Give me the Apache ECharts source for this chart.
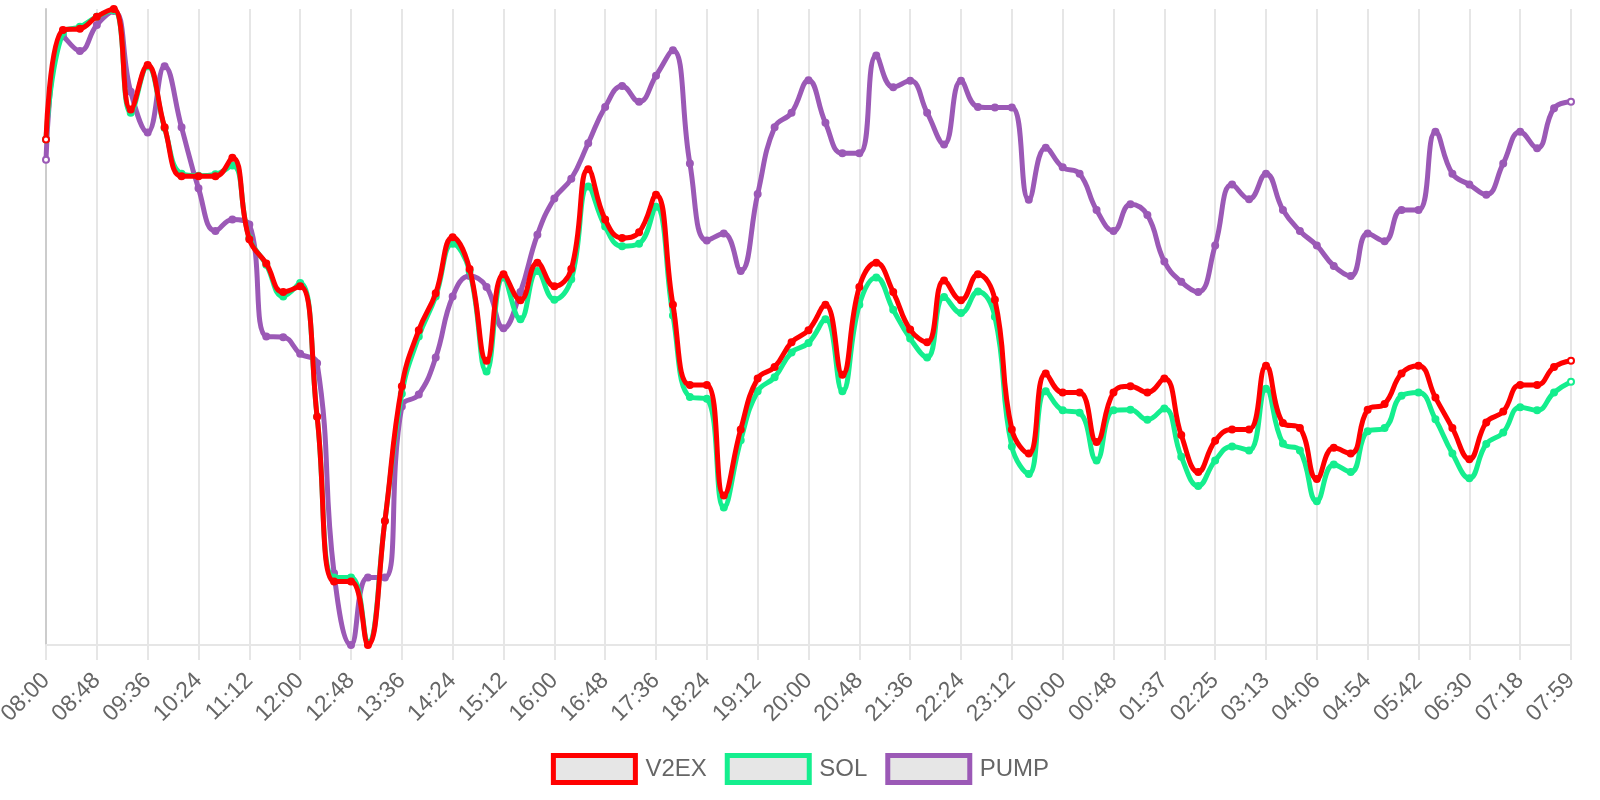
<!DOCTYPE html>
<html>
<head>
<meta charset="utf-8">
<script src="https://cdn.jsdelivr.net/npm/echarts@6/dist/echarts.min.js"></script>
<style>
html, body { margin: 0; padding: 0; background: #fff; }
#main { width: 1600px; height: 800px; }
</style>
</head>
<body>
<div id="main"></div>
<script>
// time axis, one point every ~16 min
var times = [
  '08:00','08:16','08:32','08:48','09:04','09:20','09:36','09:52','10:08',
  '10:24','10:40','10:56','11:12','11:28','11:44','12:00','12:16','12:32',
  '12:48','13:04','13:20','13:36','13:52','14:08','14:24','14:40','14:56',
  '15:12','15:28','15:44','16:00','16:16','16:32','16:48','17:04','17:20',
  '17:36','17:52','18:08','18:24','18:40','18:56','19:12','19:28','19:44',
  '20:00','20:16','20:32','20:48','21:04','21:20','21:36','21:52','22:08',
  '22:24','22:40','22:56','23:12','23:28','23:44','00:00','00:16','00:32',
  '00:48','01:04','01:21','01:37','01:53','02:09','02:25','02:41','02:57',
  '03:13','03:31','03:48','04:06','04:22','04:38','04:54','05:10','05:26',
  '05:42','05:58','06:14','06:30','06:46','07:02','07:18','07:32','07:46',
  '07:59'
];

// normalized values (0 = low of range, 100 = high)
var v2ex = [
  79.5, 96.7, 96.9, 98.8, 100, 84.2, 91.2, 81.4, 73.7, 73.7,
  73.7, 76.6, 63.8, 60.0, 55.5, 56.4, 35.9, 10.0, 10.0, 0,
  19.5, 40.7, 49.5, 55.3, 64.1, 59.1, 44.7, 58.3, 54.2, 60.1,
  56.4, 59.1, 74.8, 66.9, 64.0, 64.9, 70.8, 53.5, 40.9, 40.9,
  23.5, 33.9, 41.9, 43.7, 47.6, 49.5, 53.5, 42.5, 56.3, 60.1,
  55.5, 49.6, 47.6, 57.3, 54.2, 58.3, 54.3, 33.9, 30.1, 42.7,
  39.7, 39.7, 31.9, 39.7, 40.7, 39.7, 41.9, 33.0, 27.2, 32.1,
  33.9, 33.9, 43.9, 34.9, 34.1, 26.1, 31.0, 30.1, 37.0, 37.9,
  42.7, 43.9, 38.9, 34.1, 29.2, 35.0, 36.7, 40.9, 40.9, 43.7,
  44.7
];
var sol = [
  79.5, 96.3, 97.2, 98.8, 99.8, 83.7, 91.0, 81.3, 74.1, 73.8,
  74.0, 75.4, 64.0, 59.8, 54.8, 56.9, 35.9, 10.6, 10.6, 0.3,
  19.5, 39.5, 48.5, 54.8, 63.1, 58.8, 43.0, 57.8, 51.2, 58.8,
  54.3, 57.5, 72.1, 65.8, 62.7, 63.1, 68.9, 51.8, 39.0, 38.7,
  21.6, 32.2, 39.9, 42.1, 46.0, 47.5, 51.2, 39.9, 53.5, 57.8,
  52.7, 48.2, 45.2, 54.7, 52.2, 55.6, 51.6, 31.2, 26.9, 39.9,
  36.9, 36.5, 29.0, 36.9, 37.0, 35.4, 37.2, 29.6, 25.0, 29.0,
  31.2, 30.6, 40.3, 31.7, 30.6, 22.6, 28.4, 27.2, 33.6, 34.1,
  39.2, 39.7, 35.5, 30.1, 26.2, 31.6, 33.4, 37.4, 36.9, 39.7,
  41.4
];
var pump = [
  76.3, 95.7, 93.4, 97.5, 99.7, 87.0, 80.6, 91.0, 81.4, 71.8,
  65.1, 66.9, 66.1, 48.5, 48.4, 45.8, 44.3, 11.3, 0, 10.6,
  10.6, 37.5, 39.4, 45.2, 54.8, 58.0, 56.3, 49.8, 55.5, 64.5,
  70.2, 73.3, 78.9, 84.6, 87.9, 85.4, 89.5, 93.5, 75.7, 63.6,
  64.7, 58.8, 70.9, 81.4, 83.7, 88.8, 82.1, 77.3, 77.3, 92.7,
  87.7, 88.7, 83.7, 78.7, 88.7, 84.6, 84.5, 84.5, 70.0, 78.2,
  75.1, 74.1, 68.4, 65.1, 69.3, 67.6, 60.3, 57.1, 55.5, 62.8,
  72.4, 70.1, 74.1, 68.4, 65.1, 62.8, 59.6, 58.0, 64.7, 63.5,
  68.4, 68.4, 80.7, 74.1, 72.4, 70.8, 75.7, 80.7, 78.1, 84.4,
  85.4
];

var font = '"Liberation Sans", Arial, Helvetica, sans-serif';
var gridColor = '#e6e6e6';

// first and last points drawn hollow
function points(arr) {
  return arr.map(function (v, i) {
    if (i === 0 || i === arr.length - 1) {
      return { value: v, symbol: 'emptyCircle' };
    }
    return v;
  });
}

function line(name, color, arr, z) {
  return {
    name: name,
    type: 'line',
    data: points(arr),
    smooth: 0.45,
    clip: false,
    z: z,
    symbol: 'circle',
    symbolSize: 6,
    lineStyle: { color: color, width: 5 },
    itemStyle: { color: color, borderColor: color, borderWidth: 2 },
    emphasis: { disabled: true }
  };
}

var myChart = echarts.init(document.getElementById('main'));
var option = {
  animation: false,
  textStyle: { fontFamily: font },
  grid: { left: 46, right: 29, top: 9, bottom: 155, containLabel: false, outerBoundsMode: 'none' },
  legend: {
    data: ['V2EX', 'SOL', 'PUMP'],
    top: 748,
    left: 'center',
    icon: 'rect',
    itemWidth: 82,
    itemHeight: 27,
    itemGap: 18,
    itemStyle: { color: '#e6e6e6', borderColor: 'inherit', borderWidth: 5 },
    lineStyle: { width: 0 },
    textStyle: { color: '#666', fontSize: 24, fontFamily: font, padding: [0, 0, 0, 5] }
  },
  xAxis: {
    type: 'category',
    data: times,
    boundaryGap: false,
    axisLine: { lineStyle: { color: gridColor, width: 2 } },
    axisTick: { show: true, interval: 2, length: 15, lineStyle: { color: gridColor, width: 2 } },
    splitLine: { show: true, interval: 2, lineStyle: { color: gridColor, width: 2 } },
    axisLabel: {
      interval: 2,
      rotate: 45,
      margin: 32,
      color: '#666',
      fontSize: 23,
      fontFamily: font
    }
  },
  yAxis: {
    type: 'value',
    min: 0,
    max: 100,
    axisLine: { show: true, lineStyle: { color: '#cccccc', width: 2 } },
    axisTick: { show: false },
    axisLabel: { show: false },
    splitLine: { show: false }
  },
  series: [
    line('V2EX', '#ff0000', v2ex, 4),
    line('SOL', '#14ee8e', sol, 3),
    line('PUMP', '#9b59b6', pump, 2)
  ]
};
option && myChart.setOption(option);
</script>
</body>
</html>
